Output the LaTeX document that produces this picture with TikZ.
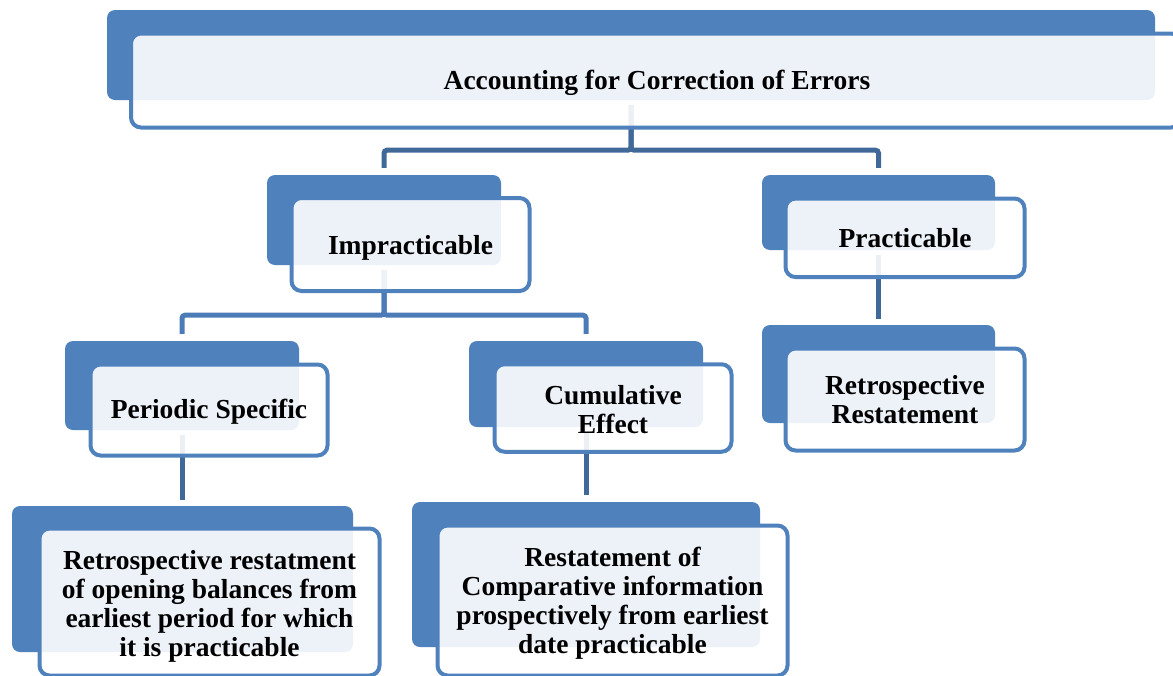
\documentclass[tikz,border=0pt]{standalone}
\usepackage{fontspec}
\setmainfont{Liberation Serif}
\usetikzlibrary{calc}
\definecolor{accent}{RGB}{79,129,189}
\definecolor{linkdark}{RGB}{64,105,154}
\definecolor{linklight}{RGB}{76,124,183}
\pgfdeclarelayer{bg}
\pgfsetlayers{bg,main}
\tikzset{
  backbox/.style={fill=accent, draw=none, rounded corners=8pt, inner sep=0pt},
  frontbox/.style={fill=white, fill opacity=0.9, draw=accent,
    line width=4pt, rounded corners=10pt, inner sep=0pt},
  caption/.style={inner sep=0pt, align=center, text=black,
    font=\fontsize{27.5}{29}\selectfont\bfseries},
  link/.style={line width=5pt, rounded corners=3pt, shorten <=5pt},
}
\begin{document}
\begin{tikzpicture}[x=1pt,y=-1pt]
\useasboundingbox (0,0) rectangle (1173,675);

% root
\node[backbox, minimum width=1048pt, minimum height=90pt] (topB) at (631,55) {};
\node[frontbox, minimum width=1050pt, minimum height=94pt] (topF) at (656,80.5) {};
\node[caption] (topT) at ($(topF.center)+(1,2)$) {Accounting for Correction of Errors};

% second level
\node[backbox, minimum width=234pt, minimum height=90pt] (impB) at (384,220) {};
\node[frontbox, minimum width=238pt, minimum height=93pt] (impF) at (410.5,244.5) {};
\node[caption] (impT) at ($(impF.center)+(0,3)$) {Impracticable};

\node[backbox, minimum width=233pt, minimum height=75pt] (pracB) at (878.5,212.5) {};
\node[frontbox, minimum width=239pt, minimum height=78.5pt] (pracF) at (905,237.8) {};
\node[caption] (pracT) at ($(pracF.center)+(0,0.5)$) {Practicable};

% third level
\node[backbox, minimum width=234pt, minimum height=89pt] (perB) at (182,385.5) {};
\node[frontbox, minimum width=237pt, minimum height=91pt] (perF) at (209,410) {};
\node[caption] (perT) at ($(perF.center)+(0,2)$) {Periodic Specific};

\node[backbox, minimum width=234pt, minimum height=86pt] (cumB) at (586,384) {};
\node[frontbox, minimum width=237pt, minimum height=87.5pt] (cumF) at (613,408) {};
\node[caption] (cumT) at ($(cumF.center)+(0,2)$) {Cumulative\\Effect};

\node[backbox, minimum width=233pt, minimum height=98pt] (retB) at (878.5,374) {};
\node[frontbox, minimum width=239pt, minimum height=102pt] (retF) at (905,399.5) {};
\node[caption] (retT) at ($(retF.center)+(0,0)$) {Retrospective\\Restatement};

% fourth level
\node[backbox, minimum width=341pt, minimum height=146pt] (blB) at (182.5,579) {};
\node[frontbox, minimum width=340pt, minimum height=147pt] (blF) at (209.5,602) {};
\node[caption] (blT) at ($(blF.center)+(0,4.5)$)
  {Retrospective restatment\\of opening balances from\\earliest period for which\\it is practicable};

\node[backbox, minimum width=348pt, minimum height=145pt] (bmB) at (586,574.5) {};
\node[frontbox, minimum width=350pt, minimum height=150pt] (bmF) at (612.5,600.5) {};
\node[caption] (bmT) at ($(bmF.center)+(0,2.5)$)
  {Restatement of\\Comparative information\\prospectively from earliest\\date practicable};

% connectors, kept beneath the boxes
\begin{pgfonlayer}{bg}
  \draw[link, linkdark, shorten >=7pt] (topB.south) -- ++(0,50) -| (impB.north);
  \draw[link, linkdark, shorten >=7pt] (topB.south) -- ++(0,50) -| (pracB.north);
  \draw[link, linklight, shorten >=7pt] (impB.south) -- ++(0,50) -| (perB.north);
  \draw[link, linklight, shorten >=7pt] (impB.south) -- ++(0,50) -| (cumB.north);
  \draw[link, linkdark, shorten >=6pt] (pracB.south) -- (retB.north);
  \draw[link, linkdark, shorten >=6pt] (perB.south) -- (perB.south |- blB.north);
  \draw[link, linkdark, shorten >=7pt] (cumB.south) -- (cumB.south |- bmB.north);
\end{pgfonlayer}
\end{tikzpicture}
\end{document}
